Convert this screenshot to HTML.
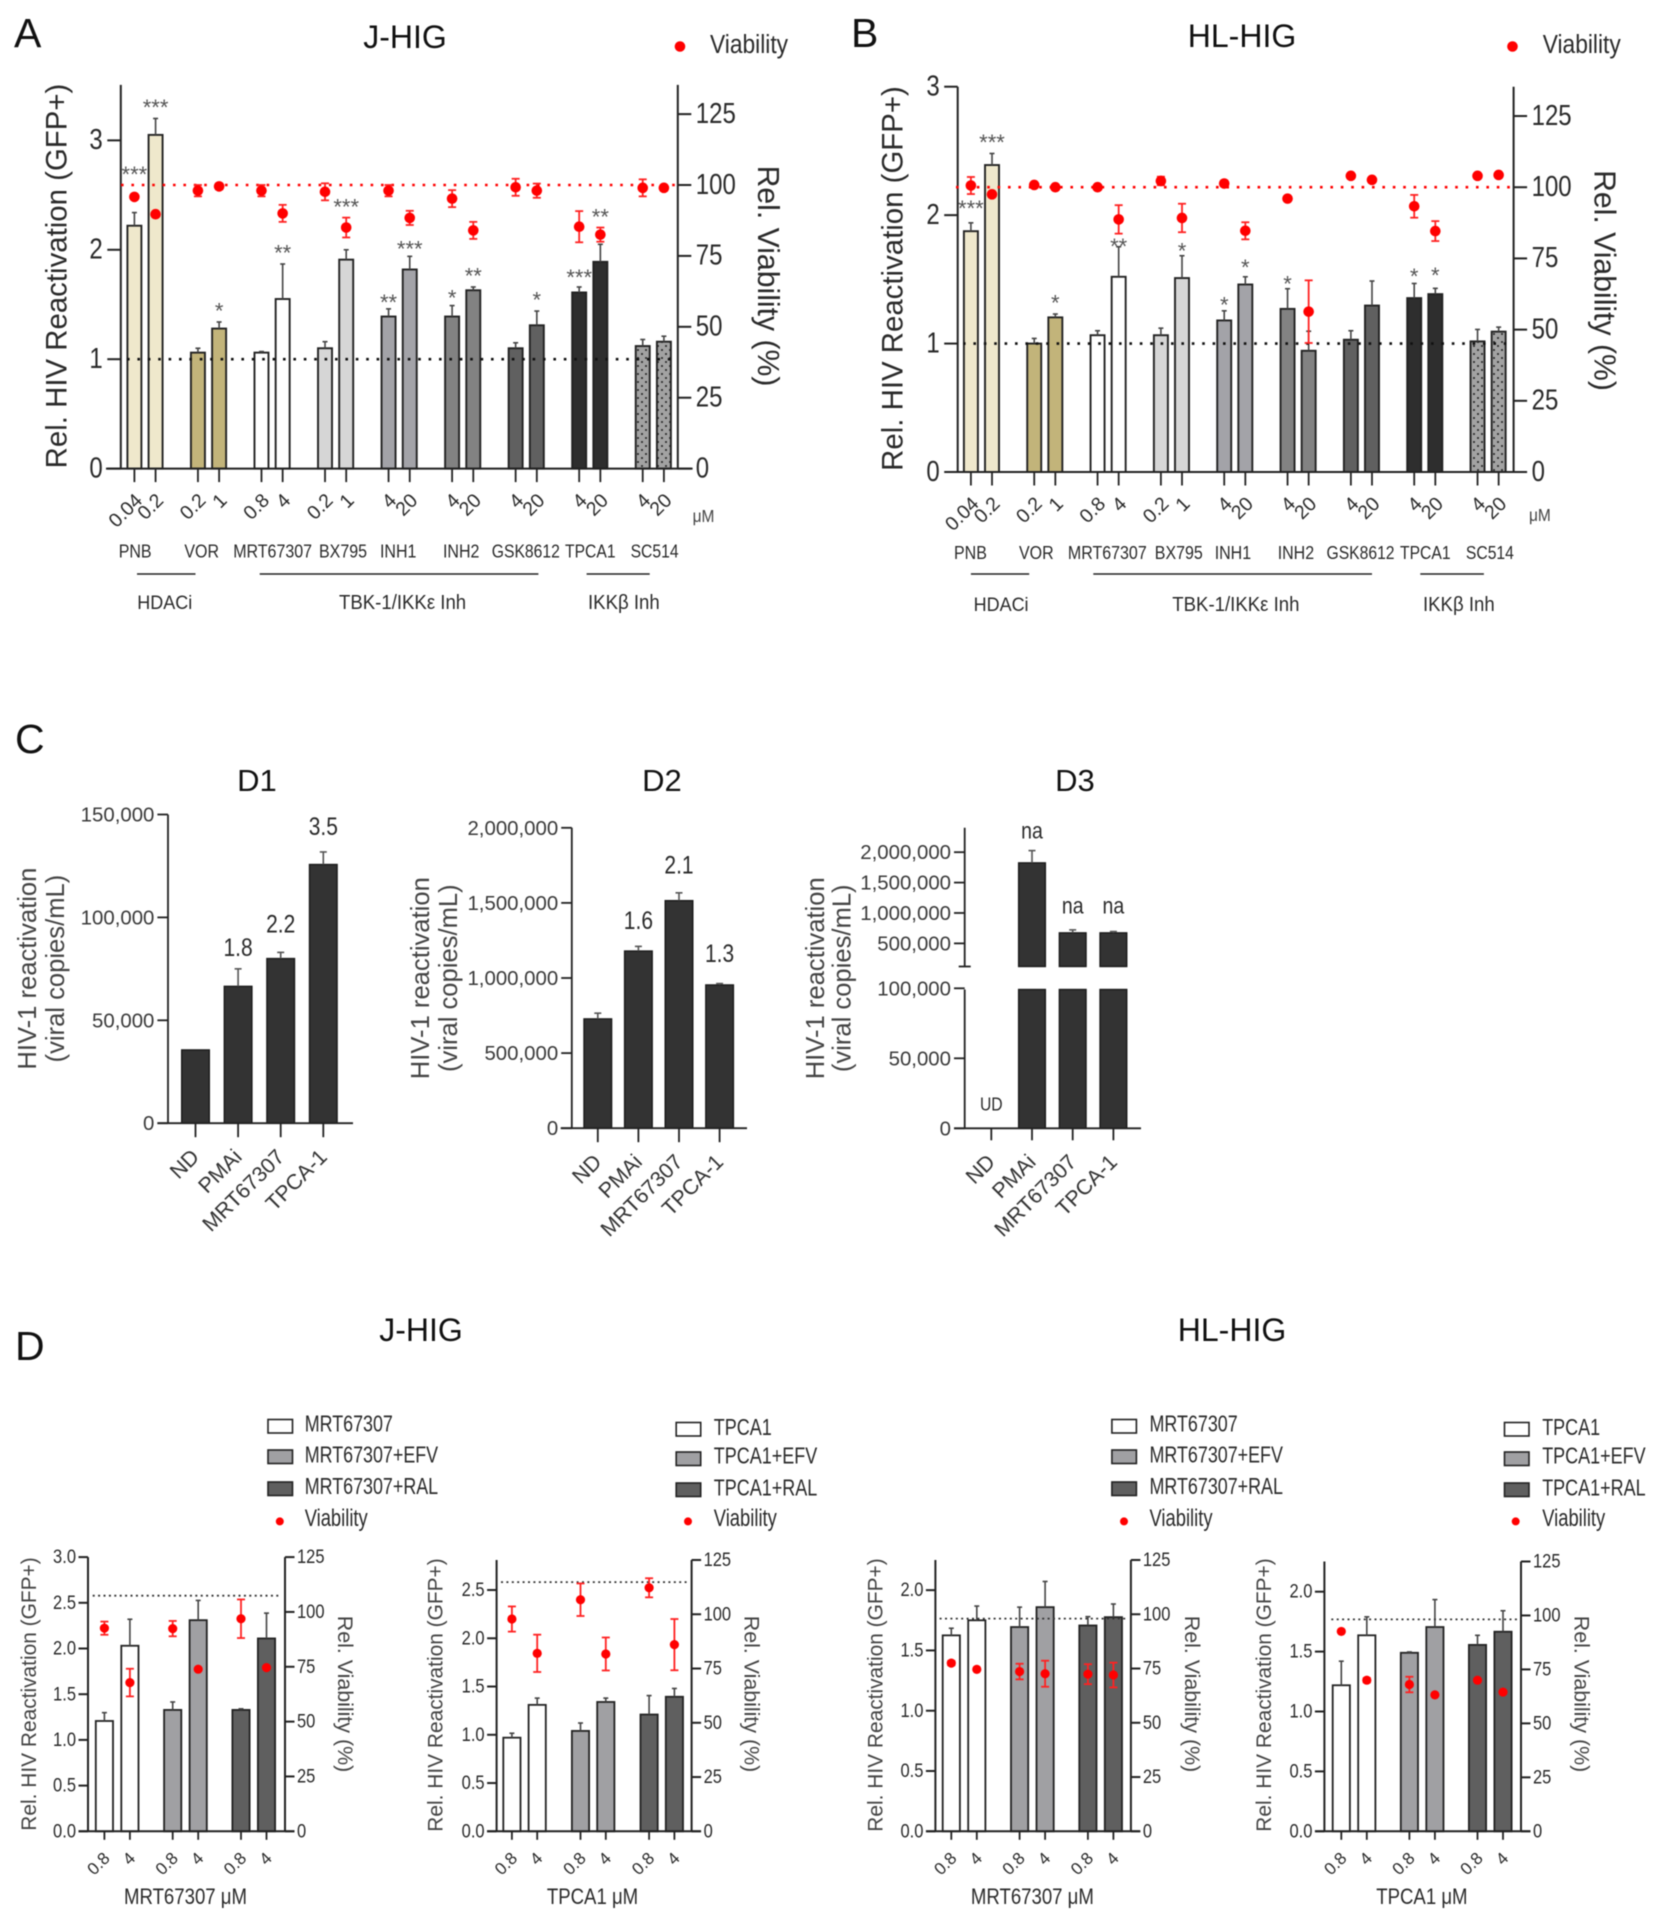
<!DOCTYPE html>
<html lang="en">
<head>
<meta charset="utf-8">
<title>HIV reactivation figure</title>
<style>
  html, body { margin: 0; padding: 0; background: #fff; }
  svg { display: block; filter: blur(0.4px); }
  text { font-family: "Liberation Sans", sans-serif; fill: #2a2a2a; }
  .dark { fill: #111; }
  .soft { fill: #444; }
  .tall11, .tall115, .tall12, .tall13 { transform-box: fill-box; transform-origin: 0 81%; }
  .tall11 { transform: scaleY(1.1); }
  .tall115 { transform: scaleY(1.15); }
  .tall12 { transform: scaleY(1.2); }
  .tall13 { transform: scaleY(1.3); }
</style>
</head>
<body>
<svg id="figure" xmlns="http://www.w3.org/2000/svg" width="1662" height="1922" viewBox="0 0 1662 1922">
  <defs>
    <pattern id="dot-fill" width="8" height="8" patternUnits="userSpaceOnUse">
      <rect width="8" height="8" fill="#a2a2a2"></rect>
      <circle cx="2" cy="2" r="1" fill="#222"></circle>
      <circle cx="6" cy="6" r="1" fill="#222"></circle>
    </pattern>
  </defs>
  <rect width="1662" height="1922" fill="#fff"></rect>

  <!-- Panel letters and titles -->
  <text class="dark" x="14" y="47" font-size="41">A</text>
  <text class="dark" x="405" y="48" font-size="32" text-anchor="middle">J-HIG</text>
  <text class="dark" x="851" y="47" font-size="41">B</text>
  <text class="dark" x="1242" y="47" font-size="32" text-anchor="middle">HL-HIG</text>
  <text class="dark" x="15" y="753" font-size="41">C</text>
  <text class="dark" x="257" y="791" font-size="31" text-anchor="middle">D1</text>
  <text class="dark" x="662" y="791" font-size="31" text-anchor="middle">D2</text>
  <text class="dark" x="1075" y="791" font-size="31" text-anchor="middle">D3</text>
  <text class="dark" x="15" y="1360" font-size="41">D</text>
  <text class="dark" x="421" y="1341" font-size="32" text-anchor="middle">J-HIG</text>
  <text class="dark" x="1232" y="1341" font-size="32" text-anchor="middle">HL-HIG</text>

  <!-- Panel A annotations -->
  <g>
    <circle cx="680" cy="46.5" r="5.3" fill="#f00"></circle>
    <text class="tall115" x="710" y="53" font-size="22.8">Viability</text>
    <text transform="translate(66.5 276) rotate(-90)" font-size="29.4" text-anchor="middle">Rel. HIV Reactivation (GFP+)</text>
    <text transform="translate(758 276) rotate(90)" font-size="30.2" text-anchor="middle">Rel. Viability (%)</text>
    <text class="soft tall115" x="692.6" y="522" font-size="15.5">μM</text>
    <text class="tall115" x="118.7" y="557.5" font-size="16">PNB</text>
    <text class="tall115" x="184.4" y="557.5" font-size="16">VOR</text>
    <text class="tall115" x="233.2" y="557.5" font-size="16">MRT67307</text>
    <text class="tall115" x="319" y="557.5" font-size="16">BX795</text>
    <text class="tall115" x="380" y="557.5" font-size="16">INH1</text>
    <text class="tall115" x="443" y="557.5" font-size="16">INH2</text>
    <text class="tall115" x="491.8" y="557.5" font-size="15.7">GSK8612</text>
    <text class="tall115" x="565" y="557.5" font-size="15.7">TPCA1</text>
    <text class="tall115" x="630.6" y="557.5" font-size="15.7">SC514</text>
    <line x1="137" x2="195.5" y1="574" y2="574" stroke="#222" stroke-width="1.6"></line>
    <line x1="259.7" x2="538.4" y1="574" y2="574" stroke="#222" stroke-width="1.6"></line>
    <line x1="586.6" x2="649.7" y1="574" y2="574" stroke="#222" stroke-width="1.6"></line>
    <text class="tall11" x="137.3" y="609" font-size="18">HDACi</text>
    <text class="tall11" x="339" y="609" font-size="18.6">TBK-1/IKKε Inh</text>
    <text class="tall11" x="588" y="609" font-size="18.6">IKKβ Inh</text>
  </g>

  <!-- Panel B annotations -->
  <g>
    <circle cx="1512.5" cy="46.5" r="5.3" fill="#f00"></circle>
    <text class="tall115" x="1542.7" y="53" font-size="22.8">Viability</text>
    <text transform="translate(902.5 278.5) rotate(-90)" font-size="29.4" text-anchor="middle">Rel. HIV Reactivation (GFP+)</text>
    <text transform="translate(1594.5 280.5) rotate(90)" font-size="30.2" text-anchor="middle">Rel. Viability (%)</text>
    <text class="soft tall115" x="1529" y="521" font-size="15.5">μM</text>
    <text class="tall115" x="954" y="559" font-size="16">PNB</text>
    <text class="tall115" x="1019" y="559" font-size="16">VOR</text>
    <text class="tall115" x="1067.9" y="559" font-size="16">MRT67307</text>
    <text class="tall115" x="1154.8" y="559" font-size="16">BX795</text>
    <text class="tall115" x="1214.7" y="559" font-size="16">INH1</text>
    <text class="tall115" x="1277.7" y="559" font-size="16">INH2</text>
    <text class="tall115" x="1326.5" y="559" font-size="15.7">GSK8612</text>
    <text class="tall115" x="1400" y="559" font-size="15.7">TPCA1</text>
    <text class="tall115" x="1465.9" y="559" font-size="15.7">SC514</text>
    <line x1="970.9" x2="1029.2" y1="574" y2="574" stroke="#222" stroke-width="1.6"></line>
    <line x1="1093.3" x2="1372" y1="574" y2="574" stroke="#222" stroke-width="1.6"></line>
    <line x1="1420.3" x2="1483.9" y1="574" y2="574" stroke="#222" stroke-width="1.6"></line>
    <text class="tall11" x="973.6" y="611" font-size="18">HDACi</text>
    <text class="tall11" x="1172.3" y="611" font-size="18.6">TBK-1/IKKε Inh</text>
    <text class="tall11" x="1423" y="611" font-size="18.6">IKKβ Inh</text>
  </g>

  <!-- Panel C axis titles -->
  <g>
    <text class="soft" transform="translate(36 968.6) rotate(-90)" font-size="25.6" text-anchor="middle">HIV-1 reactivation</text>
    <text class="soft" transform="translate(64 968.6) rotate(-90)" font-size="25.6" text-anchor="middle">(viral copies/mL)</text>
    <text class="soft" transform="translate(429 978.2) rotate(-90)" font-size="25.6" text-anchor="middle">HIV-1 reactivation</text>
    <text class="soft" transform="translate(457 978.2) rotate(-90)" font-size="25.6" text-anchor="middle">(viral copies/mL)</text>
    <text class="soft" transform="translate(824 978.3) rotate(-90)" font-size="25.6" text-anchor="middle">HIV-1 reactivation</text>
    <text class="soft" transform="translate(850.3 978.3) rotate(-90)" font-size="25.6" text-anchor="middle">(viral copies/mL)</text>
  </g>

  <!-- Panel D legends and axis titles -->
  <g>
    <g>
      <rect x="268" y="1419.5" width="24.5" height="13.5" fill="#fff" stroke="#222" stroke-width="1.6"></rect>
      <rect x="268" y="1450" width="24.5" height="13.5" fill="#a0a0a3" stroke="#222" stroke-width="1.6"></rect>
      <rect x="268" y="1482" width="24.5" height="13.5" fill="#5f5f5f" stroke="#222" stroke-width="1.6"></rect>
      <circle cx="279.8" cy="1521.4" r="4" fill="#f00"></circle>
      <text class="tall13" x="304.7" y="1431.7" font-size="17.9">MRT67307</text>
      <text class="tall13" x="304.7" y="1462.7" font-size="17.9">MRT67307+EFV</text>
      <text class="tall13" x="304.7" y="1494.4" font-size="17.9">MRT67307+RAL</text>
      <text class="tall13" x="304.7" y="1526" font-size="18.4">Viability</text>
    </g>
    <g>
      <rect x="676.2" y="1422.5" width="24.5" height="13.5" fill="#fff" stroke="#222" stroke-width="1.6"></rect>
      <rect x="676.2" y="1452" width="24.5" height="13.5" fill="#a0a0a3" stroke="#222" stroke-width="1.6"></rect>
      <rect x="676.2" y="1483" width="24.5" height="13.5" fill="#5f5f5f" stroke="#222" stroke-width="1.6"></rect>
      <circle cx="688" cy="1521.4" r="4" fill="#f00"></circle>
      <text class="tall13" x="713.8" y="1435" font-size="18">TPCA1</text>
      <text class="tall13" x="713.8" y="1463.9" font-size="18">TPCA1+EFV</text>
      <text class="tall13" x="713.8" y="1495.6" font-size="18">TPCA1+RAL</text>
      <text class="tall13" x="713.8" y="1526" font-size="18.4">Viability</text>
    </g>
    <g>
      <rect x="1111.9" y="1419.5" width="24.5" height="13.5" fill="#fff" stroke="#222" stroke-width="1.6"></rect>
      <rect x="1111.9" y="1450" width="24.5" height="13.5" fill="#a0a0a3" stroke="#222" stroke-width="1.6"></rect>
      <rect x="1111.9" y="1482" width="24.5" height="13.5" fill="#5f5f5f" stroke="#222" stroke-width="1.6"></rect>
      <circle cx="1124" cy="1521.4" r="4" fill="#f00"></circle>
      <text class="tall13" x="1149.5" y="1431.7" font-size="17.9">MRT67307</text>
      <text class="tall13" x="1149.5" y="1462.7" font-size="17.9">MRT67307+EFV</text>
      <text class="tall13" x="1149.5" y="1494.4" font-size="17.9">MRT67307+RAL</text>
      <text class="tall13" x="1149.5" y="1526" font-size="18.4">Viability</text>
    </g>
    <g>
      <rect x="1504.5" y="1422.5" width="24.5" height="13.5" fill="#fff" stroke="#222" stroke-width="1.6"></rect>
      <rect x="1504.5" y="1452" width="24.5" height="13.5" fill="#a0a0a3" stroke="#222" stroke-width="1.6"></rect>
      <rect x="1504.5" y="1483" width="24.5" height="13.5" fill="#5f5f5f" stroke="#222" stroke-width="1.6"></rect>
      <circle cx="1515.7" cy="1521.4" r="4" fill="#f00"></circle>
      <text class="tall13" x="1542.2" y="1435" font-size="18">TPCA1</text>
      <text class="tall13" x="1542.2" y="1463.9" font-size="18">TPCA1+EFV</text>
      <text class="tall13" x="1542.2" y="1495.6" font-size="18">TPCA1+RAL</text>
      <text class="tall13" x="1542.2" y="1526" font-size="18.4">Viability</text>
    </g>

    <text class="soft" transform="translate(36 1694) rotate(-90)" font-size="20.9" text-anchor="middle">Rel. HIV Reactivation (GFP+)</text>
    <text class="soft" transform="translate(338 1694) rotate(90)" font-size="21.4" text-anchor="middle">Rel. Viability (%)</text>
    <text class="tall12" x="185.5" y="1904" font-size="18.6" text-anchor="middle">MRT67307 μM</text>

    <text class="soft" transform="translate(442.5 1695) rotate(-90)" font-size="20.9" text-anchor="middle">Rel. HIV Reactivation (GFP+)</text>
    <text class="soft" transform="translate(744.6 1694) rotate(90)" font-size="21.4" text-anchor="middle">Rel. Viability (%)</text>
    <text class="tall12" x="592.5" y="1904" font-size="18.6" text-anchor="middle">TPCA1 μM</text>

    <text class="soft" transform="translate(882.4 1695) rotate(-90)" font-size="20.9" text-anchor="middle">Rel. HIV Reactivation (GFP+)</text>
    <text class="soft" transform="translate(1185 1694) rotate(90)" font-size="21.4" text-anchor="middle">Rel. Viability (%)</text>
    <text class="tall12" x="1032.4" y="1904" font-size="18.6" text-anchor="middle">MRT67307 μM</text>

    <text class="soft" transform="translate(1270.8 1695) rotate(-90)" font-size="20.9" text-anchor="middle">Rel. HIV Reactivation (GFP+)</text>
    <text class="soft" transform="translate(1574.5 1694) rotate(90)" font-size="21.4" text-anchor="middle">Rel. Viability (%)</text>
    <text class="tall12" x="1421.9" y="1904" font-size="18.6" text-anchor="middle">TPCA1 μM</text>
  </g>

  <g id="charts"></g>
</svg>

<script>
// ---------- Panel A (J-HIG screen) ----------
const panelADoses = ['0.04','0.2','0.2','1','0.8','4','0.2','1','4','20','4','20','4','20','4','20','4','20'];
const panelABars = [2.22,3.05,1.06,1.28,1.06,1.55,1.10,1.91,1.39,1.82,1.39,1.63,1.10,1.31,1.61,1.89,1.12,1.16];
const panelAErrorTops = [2.34,3.20,1.10,1.34,1.07,1.87,1.16,2.00,1.46,1.94,1.49,1.66,1.15,1.44,1.66,2.05,1.18,1.21];
const panelAViability = [95.8,89.7,98,99.5,98,90,97.6,85,98,88.4,95.2,84,99.2,98,85.3,82.5,99,99];
const panelAViabilityErrors = [0,0,2,1,2,3,3,3.5,2,2.5,3,3,3,2.5,5.5,2.5,3,1];
const panelAStars = ['***','***','','*','','**','','***','**','***','*','**','','*','***','**','',''];
const panelAStarLevels = [2.73,3.34,0,1.48,0,2.01,0,2.43,1.56,2.05,1.6,1.8,0,1.58,1.79,2.34,0,0];
const panelALeftTicks = [0,1,2,3];
const panelARightTicks = [0,25,50,75,100,125];

// ---------- Panel B (HL-HIG screen) ----------
const panelBDoses = ['0.04','0.2','0.2','1','0.8','4','0.2','1','4','20','4','20','4','20','4','20','4','20'];
const panelBBars = [1.875,2.39,1.0,1.204,1.065,1.52,1.065,1.51,1.18,1.46,1.27,0.944,1.03,1.296,1.354,1.385,1.017,1.093];
const panelBErrorTops = [1.94,2.48,1.04,1.23,1.10,1.754,1.12,1.684,1.255,1.52,1.427,1.096,1.10,1.487,1.468,1.43,1.11,1.128];
const panelBViability = [100.6,97.5,100.8,100,100,88.7,102.2,89.2,101.3,84.7,96,56.3,104,102.6,93.3,84.6,104,104.3];
const panelBViabilityErrors = [3,0,0,0,0,5,1.5,5,1,3,0,11,0,0,4,3.5,0,0];
const panelBStars = ['***','***','','*','','**','','*','*','*','*','','','','*','*','',''];
const panelBStarLevels = [2.085,2.6,0,1.35,0,1.79,0,1.754,1.335,1.627,1.5,0,0,0,1.557,1.566,0,0];
const panelBLeftTicks = [0,1,2,3];
const panelBRightTicks = [0,25,50,75,100,125];

// ---------- Panel C (donor reactivation) ----------
const donorCategories = ['ND','PMAi','MRT67307','TPCA-1'];
const d1Values = [35600,66500,80000,125700];
const d1ErrorTops = [35600,75000,83000,131800];
const d1Labels = ['','1.8','2.2','3.5'];
const d1LabelLevels = [0,85000,96400,143700];
const d1Ticks = [0,50000,100000,150000];

const d2Values = [727700,1179500,1514900,953700];
const d2ErrorTops = [765800,1210500,1567000,963000];
const d2Labels = ['','1.6','2.1','1.3'];
const d2LabelLevels = [0,1376900,1745500,1158100];
const d2Ticks = [0,500000,1000000,1500000,2000000];

const d3Values = [0,1824000,673000,673000];
const d3ErrorTops = [0,2026000,722000,695000];
const d3Labels = ['UD','na','na','na'];
const d3LabelLevels = [16600,2339000,1105000,1105000];
const d3Ticks = [0,50000,100000,500000,1000000,1500000,2000000];

// ---------- Panel D (combinations) ----------
const comboDoses = ['0.8','4','0.8','4','0.8','4'];
const comboLeftTicks = [0,0.5,1,1.5,2,2.5,3];
const comboRightTicks = [0,25,50,75,100,125];

const jMrtBars = [1.207,2.03,1.328,2.31,1.328,2.11];
const jMrtErrorTops = [1.298,2.32,1.415,2.526,1.34,2.387];
const jMrtViability = [92.6,67.8,92.4,73.9,96.9,74.6];
const jMrtViabilityErrors = [3,6.3,3.5,0,8.8,0];

const jTpcaBars = [0.97,1.31,1.04,1.34,1.21,1.394];
const jTpcaErrorTops = [1.016,1.38,1.122,1.38,1.406,1.48];
const jTpcaViability = [97.8,82,106.7,81.7,112.2,86];
const jTpcaViabilityErrors = [5.8,8.6,7.5,7.6,4.4,11.8];

const hlMrtBars = [1.625,1.75,1.694,1.859,1.707,1.776];
const hlMrtErrorTops = [1.684,1.868,1.859,2.072,1.78,1.885];
const hlMrtViability = [77.5,74.6,73.6,72.6,72.4,72];
const hlMrtViabilityErrors = [1,0.5,3.6,6,4.6,5.7];

const hlTpcaBars = [1.219,1.636,1.49,1.705,1.556,1.666];
const hlTpcaErrorTops = [1.42,1.79,1.497,1.934,1.636,1.841];
const hlTpcaViability = [92.6,70,68,63.2,70,64.5];
const hlTpcaViabilityErrors = [0.5,1,3.6,0.5,0.5,0.5];

// ---------- Palettes (styles, not data) ----------
const screenFills = ['#efe8cc','#efe8cc','#c2b47a','#c2b47a','#ffffff','#ffffff','#d6d6d6','#d6d6d6','#a3a3a8','#a3a3a8','#828282','#828282','#606060','#606060','#2e2e2e','#2e2e2e','url(#dot-fill)','url(#dot-fill)'];
const comboFills = ['#ffffff','#ffffff','#a0a0a3','#a0a0a3','#5f5f5f','#5f5f5f'];

const SVG_NS = 'http://www.w3.org/2000/svg';
const chartsRoot = document.getElementById('charts');

function make(tag, attrs, parent) {
  const el = document.createElementNS(SVG_NS, tag);
  for (const k in attrs) el.setAttribute(k, attrs[k]);
  parent.appendChild(el);
  return el;
}

function addLine(parent, x1, y1, x2, y2, stroke, width, name, dash) {
  const el = make('line', { x1: x1, y1: y1, x2: x2, y2: y2, stroke: stroke, 'stroke-width': width }, parent);
  if (dash) el.setAttribute('stroke-dasharray', dash);
  
  
  return el;
}

function addText(parent, str, x, y, size, anchor, rotation, fill, name, cssClass) {
  const el = make('text', { x: x, y: y, 'font-size': size, 'text-anchor': anchor, style: 'fill:' + fill }, parent);
  if (rotation) el.setAttribute('transform', 'rotate(' + rotation + ' ' + x + ' ' + y + ')');
  if (cssClass) el.setAttribute('class', cssClass);
  el.textContent = str;
  
  
  return el;
}

function addGroup(name) {
  const g = make('g', {}, chartsRoot);
  
  
  return g;
}

// Chart with a bar axis on the left and a viability axis on the right.
function drawDualAxisChart(c) {
  const g = addGroup(c.name);
  const yLeft = v => c.baseY - (v / c.leftMax) * (c.baseY - c.topY);
  const yRight = v => c.baseY - (v / c.rightMax) * (c.baseY - c.topY);
  const xPos = i => c.x0 + Math.floor(i / 2) * c.period + (i % 2) * c.step;

  // bars
  c.bars.forEach((v, i) => {
    const bar = make('rect', {
      x: xPos(i) - c.barWidth / 2, y: yLeft(v), width: c.barWidth, height: c.baseY - yLeft(v),
      fill: c.fills[i], stroke: '#222', 'stroke-width': c.strokeWidth
    }, g);
    
    
  });

  // bar error bars
  c.errorTops.forEach((v, i) => {
    addLine(g, xPos(i), yLeft(c.bars[i]), xPos(i), yLeft(v), '#444', 1.6, 'error-bar');
    addLine(g, xPos(i) - 2.5, yLeft(v), xPos(i) + 2.5, yLeft(v), '#444', 1.6, 'error-cap');
  });

  // axes
  addLine(g, c.baseLeft, c.baseY, c.baseRight, c.baseY, '#222', 2, 'x-axis');
  addLine(g, c.leftX, c.topY, c.leftX, c.baseY, '#222', 2, 'left-axis');
  addLine(g, c.rightX, c.topY, c.rightX, c.baseY, '#222', 2, 'right-axis');

  c.leftTicks.forEach(v => {
    if (v > c.leftMax) return;
    addLine(g, c.leftX - c.tickLen, yLeft(v), c.leftX, yLeft(v), '#222', 2, 'left-tick');
    addText(g, c.leftFormat(v), c.leftX - c.tickLen - c.labelGap, yLeft(v) + c.tickFont * 0.37, c.tickFont, 'end', 0, '#2a2a2a', 'left-tick-label', 'tall12');
  });
  c.rightTicks.forEach(v => {
    addLine(g, c.rightX, yRight(v), c.rightX + c.tickLen, yRight(v), '#222', 2, 'right-tick');
    addText(g, String(v), c.rightX + c.tickLen + c.labelGap, yRight(v) + c.tickFont * 0.37, c.tickFont, 'start', 0, '#2a2a2a', 'right-tick-label', 'tall12');
  });

  // reference lines
  if (c.refLeft !== null) {
    addLine(g, c.refLeftFrom, yLeft(c.refLeft), c.refTo, yLeft(c.refLeft), '#111', 2.6, 'baseline-reference-line', '2.6 7.8');
  }
  addLine(g, c.refRightFrom, yRight(c.refRight), c.refTo, yRight(c.refRight), c.refColor, c.refWidth, 'viability-reference-line', c.refDash);

  // dose ticks and labels
  c.doses.forEach((d, i) => {
    addLine(g, xPos(i), c.baseY, xPos(i), c.baseY + c.doseTick, '#222', 1.8, 'x-tick');
    addText(g, d, xPos(i) + c.doseDx, c.baseY + c.doseDy, c.doseFont, 'end', -45, '#2a2a2a', 'dose-label');
  });

  // viability points
  c.viability.forEach((v, i) => {
    const e = c.viabilityErrors[i];
    if (e > 0) {
      addLine(g, xPos(i), yRight(v - e), xPos(i), yRight(v + e), '#f22', 1.8, 'viability-error-bar');
      addLine(g, xPos(i) - 4, yRight(v + e), xPos(i) + 4, yRight(v + e), '#f22', 1.8, 'viability-error-cap');
      addLine(g, xPos(i) - 4, yRight(v - e), xPos(i) + 4, yRight(v - e), '#f22', 1.8, 'viability-error-cap');
    }
    const pt = make('circle', { cx: xPos(i), cy: yRight(v), r: c.pointRadius, fill: '#f00' }, g);
    
    
  });

  // significance stars
  (c.stars || []).forEach((s, i) => {
    if (!s) return;
    addText(g, s, xPos(i), yLeft(c.starLevels[i]) + 12, 22, 'middle', 0, '#555', 'significance-label');
  });
}

// Donor bar chart, optionally with a broken axis.
function drawDonorChart(c) {
  const g = addGroup(c.name);
  const xPos = i => c.x0 + i * c.step;
  const y = c.scale;

  c.values.forEach((v, i) => {
    if (v <= 0) return;
    if (c.breakValue && v > c.breakValue) {
      const upper = make('rect', { x: xPos(i) - c.barWidth / 2, y: y(v), width: c.barWidth, height: c.breakUpperY - y(v), fill: '#333', stroke: '#1a1a1a', 'stroke-width': 1.4 }, g);
      
      
      const lower = make('rect', { x: xPos(i) - c.barWidth / 2, y: c.breakLowerY, width: c.barWidth, height: c.baseY - c.breakLowerY, fill: '#333', stroke: '#1a1a1a', 'stroke-width': 1.4 }, g);
      
      
    } else {
      const bar = make('rect', { x: xPos(i) - c.barWidth / 2, y: y(v), width: c.barWidth, height: c.baseY - y(v), fill: '#333', stroke: '#1a1a1a', 'stroke-width': 1.4 }, g);
      
      
    }
  });

  c.errorTops.forEach((v, i) => {
    if (v <= c.values[i]) return;
    addLine(g, xPos(i), y(c.values[i]), xPos(i), y(v), '#555', 1.6, 'error-bar');
    addLine(g, xPos(i) - 3.5, y(v), xPos(i) + 3.5, y(v), '#555', 1.6, 'error-cap');
  });

  addLine(g, c.baseLeft, c.baseY, c.baseRight, c.baseY, '#222', 1.8, 'x-axis');
  if (c.breakValue) {
    addLine(g, c.axisX, c.topY, c.axisX, c.breakUpperY, '#222', 1.8, 'y-axis-upper');
    addLine(g, c.axisX, c.breakLowerY, c.axisX, c.baseY, '#222', 1.8, 'y-axis-lower');
    addLine(g, c.axisX - 6, c.breakUpperY, c.axisX + 6, c.breakUpperY, '#222', 1.8, 'axis-break-tick');
  } else {
    addLine(g, c.axisX, c.topY, c.axisX, c.baseY, '#222', 1.8, 'y-axis');
  }

  c.ticks.forEach(v => {
    addLine(g, c.axisX - c.tickLen, y(v), c.axisX, y(v), '#222', 1.8, 'y-tick');
    addText(g, v.toLocaleString('en-US'), c.axisX - c.tickLen - 3, y(v) + 7, 20.4, 'end', 0, '#3a3a3a', 'y-tick-label');
  });

  c.categories.forEach((cat, i) => {
    const tx = xPos(i);
    addLine(g, tx, c.baseY, tx, c.baseY + c.catTick, '#222', 1.8, 'x-tick');
    addText(g, cat, tx + 5, c.baseY + 35, 21.4, 'end', -45, '#333', 'category-label');
  });

  c.labels.forEach((t, i) => {
    if (!t) return;
    const size = t === 'UD' ? 15.7 : (t === 'na' ? 19.5 : 21);
    addText(g, t, xPos(i), y(c.labelLevels[i]) + size * 0.36, size, 'middle', 0, '#2a2a2a', 'value-label', 'tall12');
  });
}

const plainFormat = v => String(v);
const oneDecimal = v => v.toFixed(1);

const screenStyle = {
  strokeWidth: 1.9, tickFont: 24, tickLen: 13.5, labelGap: 4.5, pointRadius: 5.3,
  doseFont: 19.5, doseTick: 13.5, doseDx: 9, doseDy: 33, leftFormat: plainFormat,
  refColor: '#f00', refWidth: 2.6, refDash: '2.6 7.8', rightMax: 135.3, fills: screenFills
};

drawDualAxisChart(Object.assign({}, screenStyle, {
  name: 'chart-a-j-hig',
  leftX: 120.8, rightX: 677.8, baseY: 468.6, topY: 84.9, baseLeft: 106, baseRight: 692.6,
  leftMax: 3.507, x0: 134.4, step: 21.18, period: 63.54, barWidth: 14,
  bars: panelABars, errorTops: panelAErrorTops, viability: panelAViability, viabilityErrors: panelAViabilityErrors,
  stars: panelAStars, starLevels: panelAStarLevels, doses: panelADoses,
  leftTicks: panelALeftTicks, rightTicks: panelARightTicks,
  refLeft: 1, refRight: 100, refLeftFrom: 127, refRightFrom: 121, refTo: 675
}));

drawDualAxisChart(Object.assign({}, screenStyle, {
  name: 'chart-b-hl-hig',
  leftX: 957.7, rightX: 1513.6, baseY: 472, topY: 86.7, baseLeft: 945, baseRight: 1526.8,
  leftMax: 3, x0: 970.9, step: 21.11, period: 63.33, barWidth: 14,
  bars: panelBBars, errorTops: panelBErrorTops, viability: panelBViability, viabilityErrors: panelBViabilityErrors,
  stars: panelBStars, starLevels: panelBStarLevels, doses: panelBDoses,
  leftTicks: panelBLeftTicks, rightTicks: panelBRightTicks,
  refLeft: 1, refRight: 100, refLeftFrom: 963, refRightFrom: 956, refTo: 1511
}));

const linearY = (baseY, pxPerUnit) => v => baseY - v * pxPerUnit;

drawDonorChart({
  name: 'chart-c-d1', values: d1Values, errorTops: d1ErrorTops, labels: d1Labels, labelLevels: d1LabelLevels,
  ticks: d1Ticks, categories: donorCategories,
  scale: linearY(1123.2, 102.9 / 50000), baseY: 1123.2, topY: 814.6, axisX: 168, baseLeft: 157.4, baseRight: 353,
  x0: 195.5, step: 42.6, barWidth: 27.6, tickLen: 10.6, catTick: 14
});

drawDonorChart({
  name: 'chart-c-d2', values: d2Values, errorTops: d2ErrorTops, labels: d2Labels, labelLevels: d2LabelLevels,
  ticks: d2Ticks, categories: donorCategories,
  scale: linearY(1128.2, 75.1 / 500000), baseY: 1128.2, topY: 827.8, axisX: 571.8, baseLeft: 560.7, baseRight: 747,
  x0: 597.8, step: 40.6, barWidth: 27.6, tickLen: 10.6, catTick: 14
});

const d3Scale = v => v <= 100000
  ? 1128.3 - v * (70 / 50000)
  : 967.7 - (v - 100000) * (30.4 / 500000);

drawDonorChart({
  name: 'chart-c-d3', values: d3Values, errorTops: d3ErrorTops, labels: d3Labels, labelLevels: d3LabelLevels,
  ticks: d3Ticks, categories: donorCategories,
  scale: d3Scale, baseY: 1128.3, topY: 827.7, axisX: 964.7, baseLeft: 954, baseRight: 1141,
  breakValue: 100000, breakUpperY: 966.5, breakLowerY: 989.5,
  x0: 991.3, step: 40.7, barWidth: 26.7, tickLen: 10.7, catTick: 12
});

const comboStyle = {
  strokeWidth: 1.8, tickFont: 16.5, tickLen: 9.5, labelGap: 2.5, pointRadius: 4.6,
  doseFont: 17, doseTick: 8.5, doseDx: 6.4, doseDy: 28, leftFormat: oneDecimal,
  refColor: '#333', refWidth: 1.8, refDash: '2 3.4', rightMax: 125, refLeft: null,
  fills: comboFills, doses: comboDoses, leftTicks: comboLeftTicks, rightTicks: comboRightTicks,
  step: 25.5, period: 68.3, barWidth: 17.2, baseY: 1831.3, stars: null
};

drawDualAxisChart(Object.assign({}, comboStyle, {
  name: 'chart-d-j-hig-mrt67307',
  leftX: 88, rightX: 285, topY: 1557.1, baseLeft: 78.5, baseRight: 294.5, leftMax: 3, x0: 104.4,
  bars: jMrtBars, errorTops: jMrtErrorTops, viability: jMrtViability, viabilityErrors: jMrtViabilityErrors,
  refRight: 107.4, refRightFrom: 92.7, refTo: 281
}));

drawDualAxisChart(Object.assign({}, comboStyle, {
  name: 'chart-d-j-hig-tpca1',
  leftX: 496.6, rightX: 691.6, topY: 1560, baseLeft: 487, baseRight: 701, leftMax: 2.811, x0: 511.9,
  period: 68.6, step: 25.3,
  bars: jTpcaBars, errorTops: jTpcaErrorTops, viability: jTpcaViability, viabilityErrors: jTpcaViabilityErrors,
  refRight: 114.8, refRightFrom: 501, refTo: 688
}));

drawDualAxisChart(Object.assign({}, comboStyle, {
  name: 'chart-d-hl-hig-mrt67307',
  leftX: 935.4, rightX: 1130.9, topY: 1560, baseLeft: 926, baseRight: 1140, leftMax: 2.25, x0: 951.3,
  bars: hlMrtBars, errorTops: hlMrtErrorTops, viability: hlMrtViability, viabilityErrors: hlMrtViabilityErrors,
  refRight: 98, refRightFrom: 939.6, refTo: 1127.8
}));

drawDualAxisChart(Object.assign({}, comboStyle, {
  name: 'chart-d-hl-hig-tpca1',
  leftX: 1324.4, rightX: 1521, topY: 1561.5, baseLeft: 1315, baseRight: 1530.5, leftMax: 2.252, x0: 1341.3,
  period: 68.1,
  bars: hlTpcaBars, errorTops: hlTpcaErrorTops, viability: hlTpcaViability, viabilityErrors: hlTpcaViabilityErrors,
  refRight: 98.2, refRightFrom: 1331.3, refTo: 1517.3
}));
</script>
</body>
</html>
